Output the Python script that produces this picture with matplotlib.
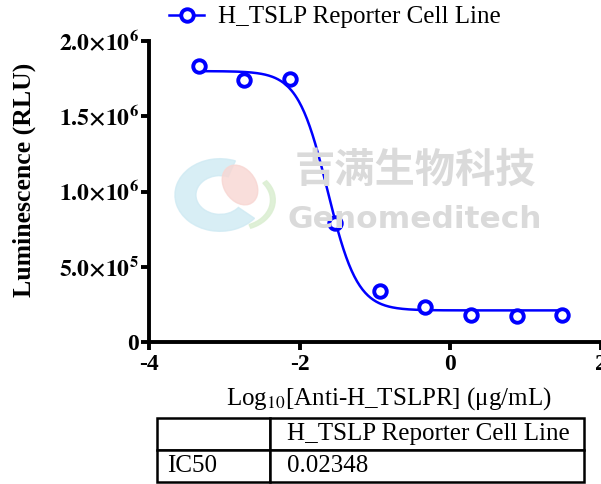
import numpy as np
import matplotlib.pyplot as plt
from matplotlib.patches import Wedge, Ellipse

# data
log_conc = [-3.34, -2.74, -2.13, -1.53, -0.93, -0.33, 0.27, 0.88, 1.48]
rlu = [1.835e6, 1.74e6, 1.745e6, 0.79e6, 0.34e6, 0.233e6, 0.18e6, 0.173e6, 0.178e6]

# 4PL fit parameters
top = 1.80e6
bottom = 0.21e6
ic50 = 0.02348
hill = 2.2

series_name = "H_TSLP Reporter Cell Line"
xticks = [-4, -2, 0, 2]
yticks = [0, 5e5, 1e6, 1.5e6, 2e6]
ytick_labels = ["0", r"$\mathbf{5.0{\times}10^5}$", r"$\mathbf{1.0{\times}10^6}$",
                r"$\mathbf{1.5{\times}10^6}$", r"$\mathbf{2.0{\times}10^6}$"]
table_rows = [["", series_name], ["IC50", "0.02348"]]

plt.rcParams['font.family'] = ['Liberation Serif', 'DejaVu Serif']
plt.rcParams['mathtext.fontset'] = 'stix'

blue = '#0000ff'
fig = plt.figure(figsize=(6.01, 4.84), dpi=100)
ax = fig.add_axes([149/601, 1-342/484, 452/601, 301/484])

# watermark (logo + company name)
W, H = 601, 484
fig.patches.append(Wedge((220/W, 1-195/H), 0.075, 70, 320, width=0.035,
                         transform=fig.transFigure, color='#cfeaf3', alpha=0.8, zorder=0))
fig.patches.append(Ellipse((240/W, 1-185/H), 0.055, 0.085, angle=20,
                           transform=fig.transFigure, color='#f8d6d2', alpha=0.8, zorder=0))
fig.patches.append(Wedge((238/W, 1-200/H), 0.062, -70, 40, width=0.008,
                         transform=fig.transFigure, color='#dcefd3', alpha=0.9, zorder=0))
fig.text(415/W, 1-170/H, "吉满生物科技", family=['Noto Sans CJK SC'], fontsize=29,
         fontweight='bold', color='#dadada', ha='center', va='center', zorder=0)
fig.text(415/W, 1-220/H, "Genomeditech", family=['DejaVu Sans'], fontsize=22.5,
         fontweight='bold', color='#dadada', ha='center', va='center', zorder=0)

xs = np.linspace(-3.34, 1.48, 400)
fit = bottom + (top - bottom) / (1 + 10 ** ((xs - np.log10(ic50)) * hill))
ax.plot(xs, fit, color=blue, lw=1.8)
ax.plot(log_conc, rlu, 'o', ms=9, mfc='white', mec=blue, mew=2.8)

# legend handle
ax.plot([], [], '-o', color=blue, ms=9, mfc='white', mec=blue, mew=2.8, lw=1.8,
        label=series_name)
ax.legend(loc='center left', bbox_to_anchor=(10/452, 1 + 24/301), frameon=False,
          fontsize=18, handlelength=1.4, handletextpad=0.55, borderaxespad=0)

ax.set_xlim(-4, 2)
ax.set_ylim(0, 2e6)
ax.set_xticks(xticks)
ax.set_xticklabels([str(t) for t in xticks], fontweight='bold', fontsize=17)
ax.set_yticks(yticks)
ax.set_yticklabels(ytick_labels, fontsize=17, fontweight='bold')
for s in ['top', 'right']:
    ax.spines[s].set_visible(False)
for s in ['left', 'bottom']:
    ax.spines[s].set_linewidth(2.8)
ax.tick_params(width=2.8, length=6, pad=1)
ax.tick_params(axis='x', pad=3)
ax.set_ylabel("Luminescence (RLU)", fontsize=18.5, fontweight='bold')
ax.yaxis.set_label_coords(-113/452, (342-180)/301)
ax.set_xlabel(r"Log$_{10}$[Anti-H_TSLPR] (μg/mL)", fontsize=18)
ax.xaxis.set_label_coords((389-149)/452, -(399-342)/301)
ax.xaxis.label.set_va('center')

# IC50 table
tax = fig.add_axes([157/601, 2/484, 427/601, 64/484])
tax.axis('off')
tb = tax.table(cellText=table_rows, bbox=[0, 0, 1, 1], colWidths=[113, 314],
               cellLoc='left')
tb.auto_set_font_size(False)
for (r, c), cell in tb.get_celld().items():
    cell.set_linewidth(1.8)
    cell.get_text().set_fontsize(18)
    cell.get_text().set_fontfamily(['Liberation Serif'])
    cell.PAD = 0.055 if c == 1 else 0.09

fig.savefig("out.png", dpi=100)
